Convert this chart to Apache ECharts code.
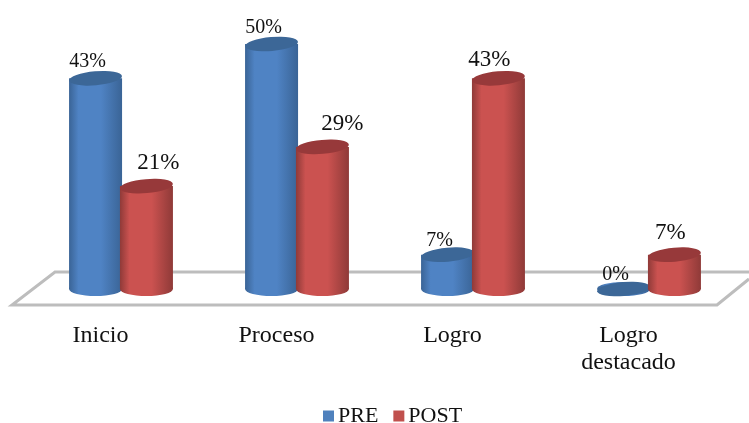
<!DOCTYPE html>
<html><head><meta charset="utf-8">
<style>html,body{margin:0;padding:0;background:#fff}#c{width:749px;height:423px;filter:blur(0.4px)}</style>
<script src="https://cdn.jsdelivr.net/npm/echarts@6/dist/echarts.min.js"></script>
</head><body><div id="c"></div>
<script>
const categories = ['Inicio', 'Proceso', 'Logro', 'Logro\ndestacado'];
const preValues = [43, 50, 7, 0];
const postValues = [21, 29, 43, 7];
const preNudge = [[-8, -1], [-8, 0], [-8, 2], [-8, 2]];
const postNudge = [[12, -6], [20, -5], [-9, -1], [-4, -4]];
const FONT = '"Liberation Serif","Times New Roman",serif';

const chart = echarts.init(document.getElementById('c'), null, {renderer: 'canvas'});
const bodyFill = (edge, mid) => ({type: 'linear', x: 0, y: 0, x2: 1, y2: 0, colorStops: [
  {offset: 0, color: edge}, {offset: 0.18, color: mid}, {offset: 0.6, color: mid}, {offset: 1, color: edge}]});
const preFill = bodyFill('#3a6496', '#4f83c4');
const postFill = bodyFill('#8f3a38', '#cb5250');
const PRE_TOP = '#3c6797', POST_TOP = '#97393a';
const W = 53, GAP = '-4%';

const labelled = (vals, nudge, size) => vals.map((v, i) => ({value: v, label: {offset: nudge[i], fontSize: size}}));
const bar = (name, vals, nudge, fill, size, z) => ({
  type: 'bar', name, barWidth: W, barGap: GAP, z, silent: true, animation: false,
  data: labelled(vals, nudge, size), itemStyle: {color: fill},
  label: {show: true, position: 'top', distance: 6, formatter: '{c}%', color: '#111', fontFamily: FONT}
});
const cap = (name, vals, color, pos, xi, z, offset, tilt) => ({
  type: 'pictorialBar', name, xAxisIndex: xi, barWidth: W, barGap: GAP, z, silent: true, animation: false,
  data: vals, symbol: 'circle', symbolSize: [W, 14], symbolRotate: tilt, symbolPosition: pos,
  symbolOffset: [0, offset], itemStyle: {color}
});

chart.setOption({
  animation: false,
  grid: {left: 33, right: 12, top: 44, height: 245, containLabel: false},
  xAxis: [
    {type: 'category', data: categories, axisLine: {show: false}, axisTick: {show: false},
     axisLabel: {fontFamily: FONT, fontSize: 24, color: '#111', margin: 33, lineHeight: 27, padding: [0, 41, 0, 0], interval: 0}},
    {type: 'category', data: categories, show: false}
  ],
  yAxis: {type: 'value', min: 0, max: 50, show: false},
  legend: {left: 323, top: 405, padding: 0, itemWidth: 11, itemHeight: 11, itemGap: 15, icon: 'rect',
    data: [{name: 'PRE', itemStyle: {color: '#4f81bd'}}, {name: 'POST', itemStyle: {color: '#c0504d'}}],
    textStyle: {fontFamily: FONT, fontSize: 22, color: '#111', padding: [0, 0, 0, -1]}},
  graphic: [{type: 'polyline', z: 0, silent: true,
    shape: {points: [[749, 272], [55, 272], [12, 305], [717, 305], [749, 279]]},
    style: {stroke: '#bdbdbd', lineWidth: 3, fill: null}}],
  series: [
    cap('PRE', preValues, preFill, 'start', 1, 2, '50%', 0),
    bar('PRE', preValues, preNudge, preFill, 20, 3),
    cap('PRE', preValues, PRE_TOP, 'end', 0, 4, '-50%', 5),
    cap('POST', postValues, postFill, 'start', 1, 5, '50%', 0),
    bar('POST', postValues, postNudge, postFill, 23, 6),
    cap('POST', postValues, POST_TOP, 'end', 0, 7, '-50%', 5)
  ]
});
</script></body></html>
